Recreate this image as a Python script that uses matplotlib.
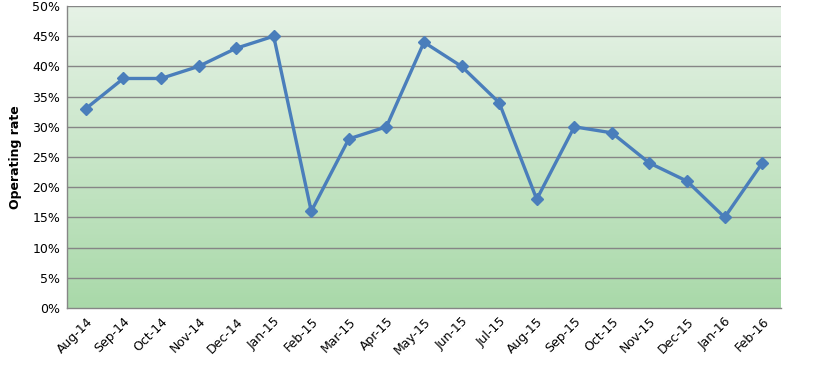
import matplotlib
matplotlib.use("Agg")
import matplotlib.pyplot as plt
import numpy as np
from matplotlib.colors import LinearSegmentedColormap
from matplotlib.ticker import FuncFormatter

months = ["Aug-14", "Sep-14", "Oct-14", "Nov-14", "Dec-14", "Jan-15", "Feb-15", "Mar-15",
          "Apr-15", "May-15", "Jun-15", "Jul-15", "Aug-15", "Sep-15", "Oct-15", "Nov-15",
          "Dec-15", "Jan-16", "Feb-16"]
rates = [33, 38, 38, 40, 43, 45, 16, 28, 30, 44, 40, 34, 18, 30, 29, 24, 21, 15, 24]

fig = plt.figure(figsize=(8.19, 3.76), dpi=100)
ax = fig.add_axes([67/819, 1-308/376, 714/819, 302/376])

n = len(months)
x = np.arange(n)
ax.set_xlim(-0.5, n - 0.5)
ax.set_ylim(0, 50)

cmap = LinearSegmentedColormap.from_list("g", ["#a9d9a9", "#e6f2e6"])
grad = np.linspace(0, 1, 256).reshape(-1, 1)
ax.imshow(grad, aspect="auto", cmap=cmap, origin="lower",
          extent=(-0.5, n - 0.5, 0, 50), zorder=0)

for y in range(5, 55, 5):
    ax.axhline(y, color="#868686", lw=1.0, zorder=1)

ax.plot(x, rates, color="#4a7ebb", lw=2.4, marker="D", markersize=6.5, zorder=3)

ax.set_xticks(x)
ax.set_xticklabels(months, rotation=45, ha="right", rotation_mode="anchor", fontsize=9)
ax.set_yticks(range(0, 55, 5))
ax.yaxis.set_major_formatter(FuncFormatter(lambda v, p: f"{int(v)}%"))
ax.tick_params(axis="y", labelsize=9, length=0, pad=5)
ax.tick_params(axis="x", length=0, pad=5)
ax.set_ylabel("Operating rate", fontsize=9, fontweight="bold", labelpad=7)

for s in ["top", "right"]:
    ax.spines[s].set_visible(False)
for s in ["left", "bottom"]:
    ax.spines[s].set_color("#868686")
    ax.spines[s].set_linewidth(1.0)

fig.savefig("out.png", dpi=100)
